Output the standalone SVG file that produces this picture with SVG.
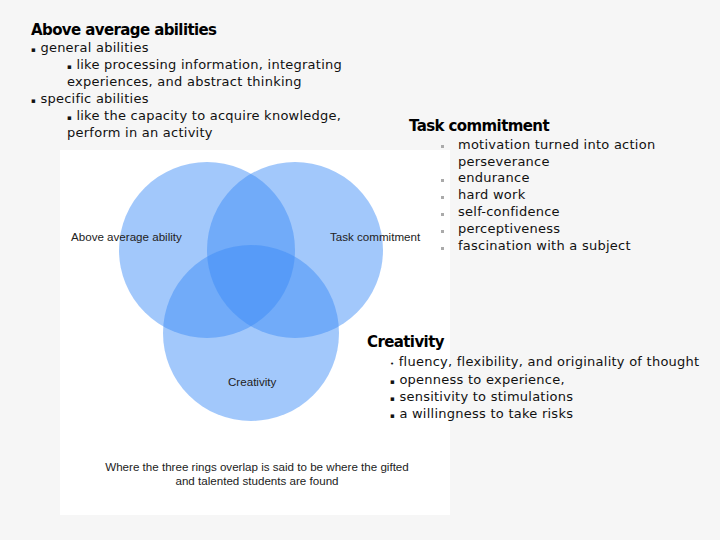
<svg xmlns="http://www.w3.org/2000/svg" width="720" height="540" viewBox="0 0 720 540">
<style>
.t{font-family:"DejaVu Sans",sans-serif;font-size:13px;fill:#111;letter-spacing:0.25px}
.b{font-size:7px}
.h{font-family:"DejaVu Sans",sans-serif;font-size:15px;font-weight:bold;fill:#000;letter-spacing:-0.6px}
.d{font-family:"Liberation Sans",Arial,sans-serif;font-size:11.6px;fill:#222}
.c{fill:#3a8af7;fill-opacity:0.47}
</style>
<rect width="720" height="540" fill="#f6f6f6"/>
<rect x="60" y="150" width="390" height="365" fill="#fff"/>
<g id="ring-ability"><circle class="c" cx="207" cy="250" r="88"/><text class="d" x="71" y="241">Above average ability</text></g>
<g id="ring-task"><circle class="c" cx="295" cy="250" r="88"/><text class="d" x="330" y="241">Task commitment</text></g>
<g id="ring-creativity"><circle class="c" cx="251" cy="333" r="88"/><text class="d" x="228" y="386">Creativity</text></g>
<g id="connectors"/>
<g id="caption"><text class="d" x="257" y="471" text-anchor="middle">Where the three rings overlap is said to be where the gifted</text><text class="d" x="257" y="485" text-anchor="middle">and talented students are found</text></g>
<g id="ability-text">
<text class="h" x="31" y="35">Above average abilities</text>
<text class="t" x="31" y="52"><tspan class="b">▪</tspan> general abilities</text>
<text class="t" x="67" y="69"><tspan class="b">▪</tspan> like processing information, integrating</text>
<text class="t" x="67" y="86">experiences, and abstract thinking</text>
<text class="t" x="31" y="103"><tspan class="b">▪</tspan> specific abilities</text>
<text class="t" x="67" y="120"><tspan class="b">▪</tspan> like the capacity to acquire knowledge,</text>
<text class="t" x="67" y="137">perform in an activity</text>
</g>
<g id="task-text">
<text class="h" x="409" y="131">Task commitment</text>
<g fill="#aaa"><rect x="441" y="145" width="3" height="3"/><rect x="441" y="179" width="3" height="3"/><rect x="441" y="196" width="3" height="3"/><rect x="441" y="213" width="3" height="3"/><rect x="441" y="230" width="3" height="3"/><rect x="441" y="247" width="3" height="3"/></g>
<text class="t" x="458" y="149">motivation turned into action</text>
<text class="t" x="458" y="166">perseverance</text>
<text class="t" x="458" y="182"> endurance</text>
<text class="t" x="458" y="199">hard work</text>
<text class="t" x="458" y="216">self-confidence</text>
<text class="t" x="458" y="233">perceptiveness</text>
<text class="t" x="458" y="250">fascination with a subject</text>
</g>
<g id="creativity-text">
<text class="h" x="367" y="347">Creativity</text>
<text class="t" x="390" y="366"><tspan class="b">•</tspan> fluency, flexibility, and originality of thought</text>
<text class="t" x="390" y="384"><tspan class="b">▪</tspan> openness to experience,</text>
<text class="t" x="390" y="401"><tspan class="b">▪</tspan> sensitivity to stimulations</text>
<text class="t" x="390" y="418"><tspan class="b">▪</tspan> a willingness to take risks</text>
</g>
</svg>
